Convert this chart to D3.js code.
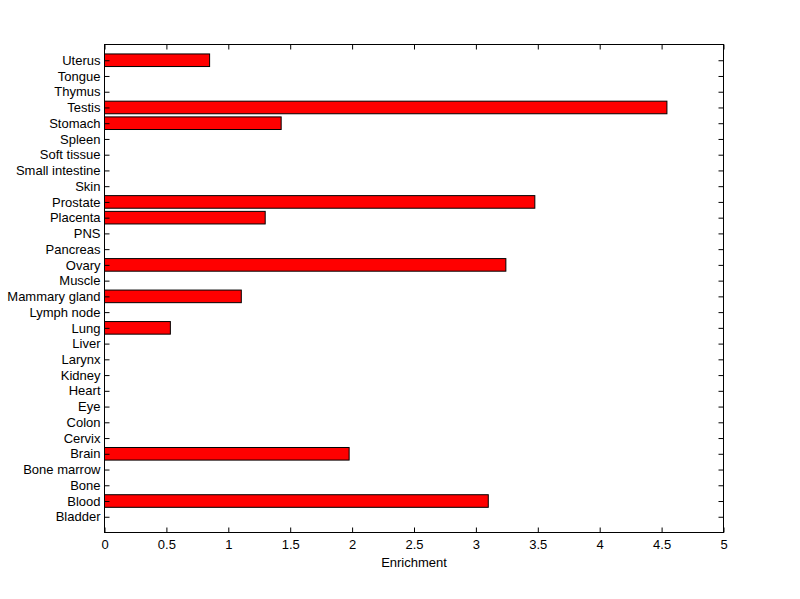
<!DOCTYPE html>
<html><head><meta charset="utf-8">
<script src="https://cdn.jsdelivr.net/npm/d3@7"></script>
<style>body{margin:0;background:#fff}svg{display:block}text{font-family:"Liberation Sans",Arial,sans-serif}</style>
</head><body>
<svg id="c" width="800" height="599"></svg>
<script>
const categories = ["Bladder","Blood","Bone","Bone marrow","Brain","Cervix","Colon","Eye","Heart","Kidney","Larynx","Liver","Lung","Lymph node","Mammary gland","Muscle","Ovary","Pancreas","PNS","Placenta","Prostate","Skin","Small intestine","Soft tissue","Spleen","Stomach","Testis","Thymus","Tongue","Uterus"];
const values = [0,3.10,0,0,1.976,0,0,0,0,0,0,0,0.532,0,1.105,0,3.242,0,0,1.298,3.476,0,0,0,0,1.427,4.543,0,0,0.849];
const xTicks = [0,0.5,1,1.5,2,2.5,3,3.5,4,4.5,5];
const xLabel = "Enrichment";

const svg = d3.select("#c");
const L=104.5, R=723.5, T=44.5, B=532.5;
const x = d3.scaleLinear().domain([0,5]).range([L,R]);
const y = d3.scaleLinear().domain([0,categories.length+1]).range([B,T]);
const slot = (B-T)/(categories.length+1);
const bh = slot*0.8;
const FS = "13px";

svg.append("rect").attr("x",L).attr("y",T).attr("width",R-L).attr("height",B-T).attr("fill","#fff");

const bars = svg.append("g");
values.forEach((v,i)=>{
  if(v>0) bars.append("rect").attr("x",x(0)).attr("y",y(i+1)-bh/2).attr("width",x(v)-x(0)).attr("height",bh)
    .attr("fill","#ff0000").attr("stroke","#000").attr("stroke-width",1);
});

const tl=5;
const xb = svg.append("g").attr("transform",`translate(0,${B})`).call(d3.axisBottom(x).tickValues(xTicks).tickSize(-tl).tickPadding(8).tickFormat(d3.format("")));
const xt = svg.append("g").attr("transform",`translate(0,${T})`).call(d3.axisTop(x).tickValues(xTicks).tickSize(-tl).tickFormat(""));
const yl = svg.append("g").attr("transform",`translate(${L},0)`).call(d3.axisLeft(y).tickValues(d3.range(1,categories.length+1)).tickSize(-tl).tickPadding(4).tickFormat(d=>categories[d-1]));
const yr = svg.append("g").attr("transform",`translate(${R},0)`).call(d3.axisRight(y).tickValues(d3.range(1,categories.length+1)).tickSize(-tl).tickFormat(""));
[xb,xt,yl,yr].forEach(g=>{
  g.selectAll(".domain").remove();
  g.selectAll("line").attr("stroke","#000");
  g.selectAll("text").attr("fill","#000").style("font-size",FS).style("font-family","'Liberation Sans',Arial,sans-serif");
});
xb.selectAll("text").attr("dy","0.65em");
svg.append("rect").attr("x",L).attr("y",T).attr("width",R-L).attr("height",B-T).attr("fill","none").attr("stroke","#000").attr("stroke-width",1);
svg.append("text").attr("x",(L+R)/2).attr("y",567).attr("text-anchor","middle").style("font-size",FS).text(xLabel);
</script>
</body></html>
